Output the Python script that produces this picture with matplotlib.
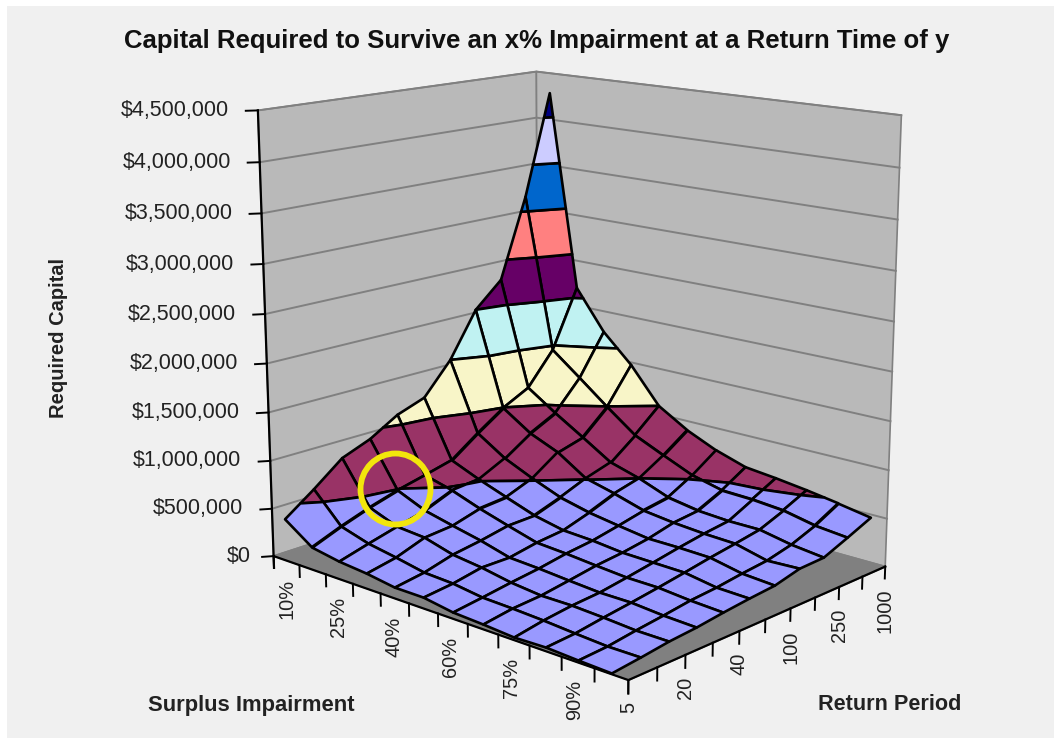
import numpy as np
import matplotlib
matplotlib.use("Agg")
import matplotlib.pyplot as plt
from matplotlib.patches import Ellipse, Rectangle
from mpl_toolkits.mplot3d import proj3d
from mpl_toolkits.mplot3d.art3d import Poly3DCollection

FIG_W, FIG_H = 1054, 738

# Required capital ($ thousands), one row per surplus impairment, one column per return period
capital_k = np.array([
    [434, 654, 892, 1008, 1183, 1287, 1620, 2095, 2357, 3206, 4285],
    [235, 354, 457, 543, 612, 685, 894, 1087, 1230, 1575, 2197],
    [185, 268, 346, 418, 536, 562, 700, 887, 1025, 1333, 1770],
    [158, 218, 323, 349, 431, 455, 565, 759, 836, 1086, 1471],
    [114, 160, 240, 284, 341, 350, 446, 558, 642, 852, 1090],
    [113, 146, 203, 202, 255, 285, 374, 480, 551, 712, 901],
    [66, 105, 148, 185, 235, 269, 326, 388, 432, 577, 760],
    [51, 96, 116, 160, 207, 237, 282, 350, 380, 500, 657],
    [29, 81, 117, 138, 182, 230, 281, 326, 360, 490, 622],
    [39, 59, 101, 138, 179, 224, 272, 314, 360, 462, 579],
    [23, 40, 79, 112, 150, 171, 206, 234, 296, 394, 528],
    [11, 42, 78, 99, 133, 161, 183, 248, 257, 361, 470],
])
impairment_labels = ["10%", "", "25%", "", "40%", "", "60%", "", "75%", "", "90%", "", ""]
return_labels = ["5", "", "20", "", "40", "", "100", "", "250", "", "1000"]
capital_ticks = [0, 500000, 1000000, 1500000, 2000000, 2500000, 3000000, 3500000, 4000000, 4500000]

# Colour bands of the surface ($ thousands at each break)
band_edges_k = [0, 550, 1090, 1620, 2095, 2562, 3053, 3541, 4030, 4700]
band_colors = ["#9999FF", "#993366", "#F8F5C8", "#C0F2F2", "#660066",
               "#FF8080", "#0066CC", "#CCCCFF", "#000080"]

PANEL = "#F0F0F0"
WALL = "#B9B9B9"
FLOOR = "#808080"
GRID = "#808080"
TEXT = "#222222"


def clip_z(poly, level, keep_above):
    # Sutherland-Hodgman against a horizontal plane
    out = []
    for k in range(len(poly)):
        a, b = poly[k], poly[(k + 1) % len(poly)]
        ina = a[2] >= level if keep_above else a[2] <= level
        inb = b[2] >= level if keep_above else b[2] <= level
        if ina:
            out.append(a)
        if ina != inb:
            t = (level - a[2]) / (b[2] - a[2])
            out.append(tuple(a[m] + t * (b[m] - a[m]) for m in range(3)))
    return out


def tick_label(ax, x, y, z, name, dx_px, dy_px, **kwargs):
    # 3D anchor, 2D text: keeps the label upright whatever the projection does
    xp, yp, _ = proj3d.proj_transform(x, y, z, ax.get_proj())
    ax.annotate(name, (xp, yp), xytext=(dx_px * 0.72, dy_px * 0.72), textcoords="offset points",
                annotation_clip=False, color=TEXT, family="Liberation Sans", zorder=4, **kwargs)


fig = plt.figure(figsize=(FIG_W / 100, FIG_H / 100), dpi=100, facecolor="white")
fig.add_artist(Rectangle((7 / FIG_W, 0), 1, 1 - 6 / FIG_H, transform=fig.transFigure,
                         facecolor=PANEL, edgecolor="none", zorder=-5))

ax = fig.add_axes([0, 0, 1, 1], projection="3d")
ax.computed_zorder = False
ax.set_axis_off()
ax.patch.set_visible(False)
ax.set_xlim3d(0, 12)
ax.set_ylim3d(0, 10)
ax.set_zlim3d(0, 4500000)
ax.view_init(elev=14.263, azim=-47.719)
ax.set_proj_type("persp", focal_length=0.5484)
ax.set_box_aspect((1.0492, 0.8617, 1.0))

# Place the axes so the projected box lands where it should on the canvas
VIEW_SCALE, VIEW_X, VIEW_Y = 4092.20, 577.37, 342.74
lim = ax.transLimits.transform([[0, 0], [1, 1]])
side = VIEW_SCALE / (lim[1, 0] - lim[0, 0])
left = VIEW_X - lim[0, 0] * side
bottom = FIG_H - VIEW_Y - lim[0, 1] * side
ax.set_position([left / FIG_W, bottom / FIG_H, side / FIG_W, side / FIG_H])

z_top = capital_ticks[-1]

# Walls and floor
walls = [
    [(0, 0, 0), (0, 10, 0), (0, 10, z_top), (0, 0, z_top)],
    [(0, 10, 0), (12, 10, 0), (12, 10, z_top), (0, 10, z_top)],
]
ax.add_collection3d(Poly3DCollection(walls, facecolors=WALL, edgecolors=GRID, linewidths=1.2, zorder=1), autolim=False)
floor = [[(0, 0, 0), (12, 0, 0), (12, 10, 0), (0, 10, 0)]]
ax.add_collection3d(Poly3DCollection(floor, facecolors=FLOOR, edgecolors=FLOOR, linewidths=0.5, zorder=1), autolim=False)

# Gridlines on both walls
for z in capital_ticks:
    ax.plot([0, 0, 12], [0, 10, 10], [z, z, z], color=GRID, lw=1.4, zorder=2)

# Axis lines and ticks
tick_z = 125000
ax.plot([0, 0], [0, 0], [-tick_z, z_top], color="black", lw=1.6, zorder=3)
ax.plot([0, 12, 12], [0, 0, 10], [0, 0, 0], color="black", lw=1.6, zorder=3)
for z in capital_ticks:
    ax.plot([0, -0.17], [0, -0.24], [z, z], color="black", lw=1.4, zorder=3)
    tick_label(ax, 0, 0, z, "${:,.0f}".format(z), -29 if z else -23, 0, ha="right", va="center", fontsize=15.5)
for i, name in enumerate(impairment_labels):
    ax.plot([i, i], [0, 0], [0, -tick_z], color="black", lw=1.4, zorder=3)
    if name:
        tick_label(ax, i, 0, 0, name, 13, -23, rotation=90, ha="center", va="top", fontsize=14.4)
for j, name in enumerate(return_labels):
    ax.plot([12, 12], [j, j], [0, -tick_z], color="black", lw=1.4, zorder=3)
    if name:
        tick_label(ax, 12, j, 0, name, 0, -22, rotation=90, ha="center", va="top", fontsize=14.4)

# Surface, painted cell by cell from the back corner forward
capital = capital_k * 1000.0
band_edges = np.array(band_edges_k) * 1000.0
order = 10
for i in range(capital.shape[0] - 1):
    for j in range(capital.shape[1] - 2, -1, -1):
        cell = [(i + 0.5, j, capital[i, j]), (i + 1.5, j, capital[i + 1, j]),
                (i + 1.5, j + 1, capital[i + 1, j + 1]), (i + 0.5, j + 1, capital[i, j + 1])]
        polys, faces = [], []
        for b, color in enumerate(band_colors):
            piece = clip_z(cell, band_edges[b], True)
            if piece:
                piece = clip_z(piece, band_edges[b + 1], False)
            if len(piece) >= 3:
                polys.append(piece)
                faces.append(color)
        ax.add_collection3d(Poly3DCollection(polys, facecolors=faces, edgecolors="black", linewidths=1.9,
                                             joinstyle="round", zorder=order), autolim=False)
        order += 1

# Titles
fig.text(537 / FIG_W, 1 - 41 / FIG_H, "Capital Required to Survive an x% Impairment at a Return Time of y",
         ha="center", va="center", fontsize=18.5, fontweight="bold", family="Liberation Sans", color="#111111")
fig.text(58 / FIG_W, 1 - 338 / FIG_H, "Required Capital", rotation=90, ha="center", va="center",
         fontsize=14.5, fontweight="bold", family="Liberation Sans", color=TEXT)
fig.text(251 / FIG_W, 1 - 706 / FIG_H, "Surplus Impairment", ha="center", va="center",
         fontsize=15.8, fontweight="bold", family="Liberation Sans", color=TEXT)
fig.text(889.5 / FIG_W, 1 - 704 / FIG_H, "Return Period", ha="center", va="center",
         fontsize=15.6, fontweight="bold", family="Liberation Sans", color=TEXT)

# Highlight ring
fig.add_artist(Ellipse((395.5 / FIG_W, 1 - 489 / FIG_H), 70 / FIG_W, 71 / FIG_H, transform=fig.transFigure,
                       fill=False, edgecolor="#F2E60C", linewidth=4.2, zorder=5))

fig.savefig("out.png", dpi=100, facecolor=fig.get_facecolor())
